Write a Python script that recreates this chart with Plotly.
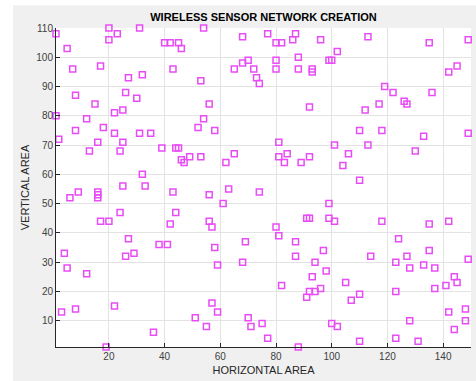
import plotly.graph_objects as go

# Node positions (x = horizontal area, y = vertical area)
node_x = [
    1, 5, 20, 31, 23, 20, 40, 42, 45, 46, 7, 17, 43, 32, 27, 8, 26, 30, 15, 25, 22, 1, 12, 18, 8, 22, 31, 35, 2,
    54, 68, 77, 80, 82, 87, 86, 96, 88, 99, 68, 70, 65, 72, 80, 80, 88, 93, 93, 73, 74, 53, 56, 92, 54, 52, 58,
    113, 135, 149, 102, 100, 145, 142, 119, 122, 136, 126, 127, 117, 112, 110, 118, 133, 149,
    16, 25, 13, 24, 39, 44, 45, 46, 47, 49, 32, 25, 33, 9, 6, 16, 16, 16, 43, 24, 44, 17, 20, 42, 27, 38, 41,
    53, 62, 65, 81, 81, 84, 83, 89, 92, 63, 56, 74, 61, 99, 56, 57, 91, 92, 99, 80, 81, 69, 87, 58,
    101, 113, 106, 130, 104, 110, 101, 118, 135, 142, 124,
    4, 26, 29, 5, 12, 22, 3, 8, 36, 19,
    87, 97, 59, 68, 94, 98, 93, 82, 96, 92, 94, 91, 57, 59, 51, 55, 70, 71, 75, 77, 88,
    114, 127, 135, 123, 133, 128, 137, 149, 105, 107, 110, 123, 137, 141, 144, 145, 142, 148, 148, 144, 128,
    100, 102, 110, 123, 131,
]
node_y = [
    108, 103, 110, 110, 108, 106, 105, 105, 105, 103, 96, 97, 96, 94, 93, 87, 88, 86, 84, 82, 81, 80, 79, 76, 75, 74, 74, 74, 72,
    110, 107, 108, 105, 105, 108, 106, 106, 100, 99, 98, 99, 96, 96, 99, 96, 96, 96, 95, 93, 91, 92, 84, 83, 79, 76, 75,
    107, 105, 106, 102, 99, 97, 95, 90, 88, 88, 85, 84, 84, 82, 75, 75, 73, 74,
    71, 71, 68, 68, 69, 69, 69, 65, 64, 66, 60, 56, 56, 54, 52, 54, 53, 52, 54, 47, 47, 44, 44, 43, 38, 36, 36,
    66, 64, 67, 71, 66, 67, 64, 64, 66, 55, 53, 54, 50, 50, 44, 42, 45, 45, 45, 42, 39, 37, 37, 35,
    70, 70, 67, 68, 63, 58, 44, 44, 43, 44, 38,
    33, 32, 33, 28, 26, 15, 13, 14, 6, 1,
    32, 34, 29, 30, 30, 27, 25, 22, 21, 20, 20, 18, 16, 13, 11, 8, 11, 8, 9, 4, 1,
    32, 32, 34, 30, 29, 28, 28, 31, 23, 17, 19, 20, 21, 22, 25, 23, 13, 14, 10, 7, 10,
    9, 8, 3, 4, 3,
]

x_ticks = [20, 40, 60, 80, 100, 120, 140]
y_ticks = [10, 20, 30, 40, 50, 60, 70, 80, 90, 100, 110]
title_text = "WIRELESS SENSOR NETWORK CREATION"
x_label = "HORIZONTAL AREA"
y_label = "VERTICAL AREA"

fig = go.Figure()
fig.add_trace(go.Scatter(
    x=node_x, y=node_y, mode="markers",
    marker=dict(symbol="square-open", size=6, color="#e84cf6",
                line=dict(width=1.5, color="#e84cf6")),
    cliponaxis=False, showlegend=False,
))

font = "Liberation Sans, Arial, sans-serif"
axis_common = dict(
    showgrid=True, gridcolor="#e3e3e3", gridwidth=1,
    showline=True, linecolor="#262626", linewidth=1,
    ticks="inside", ticklen=4, tickcolor="#262626",
    tickfont=dict(family=font, size=10, color="#404040"),
    zeroline=False, mirror=False,
)

plot_w = 415.0
plot_h = 319.6

fig.update_layout(
    width=476, height=381,
    margin=dict(l=56, r=5, t=28, b=34),
    paper_bgcolor="#f0f0f0", plot_bgcolor="#ffffff",
    title=dict(text="<b>" + title_text + "</b>", x=0.5, xref="paper",
               y=1 - 17 / 381, yref="container", yanchor="middle", xanchor="center",
               font=dict(family=font, size=11, color="#000000")),
    xaxis=dict(range=[1, 150], tickvals=x_ticks,
               title=dict(text=x_label, standoff=5,
                          font=dict(family=font, size=11, color="#262626")),
               **axis_common),
    yaxis=dict(range=[1, 110], tickvals=y_ticks,
               title=dict(text=y_label, standoff=4,
                          font=dict(family=font, size=11, color="#262626")),
               **axis_common),
    shapes=[
        dict(type="rect", xref="paper", yref="paper",
             x0=-60 / plot_w, x1=(13 - 56) / plot_w,
             y0=-0.3, y1=1.3, fillcolor="#ffffff", line=dict(width=0), layer="below"),
        dict(type="rect", xref="paper", yref="paper", x0=-0.3, x1=1.3,
             y0=1 + 22.7 / plot_h, y1=1.3, fillcolor="#ffffff", line=dict(width=0), layer="below"),
    ],
)

fig.write_html("out.html")
